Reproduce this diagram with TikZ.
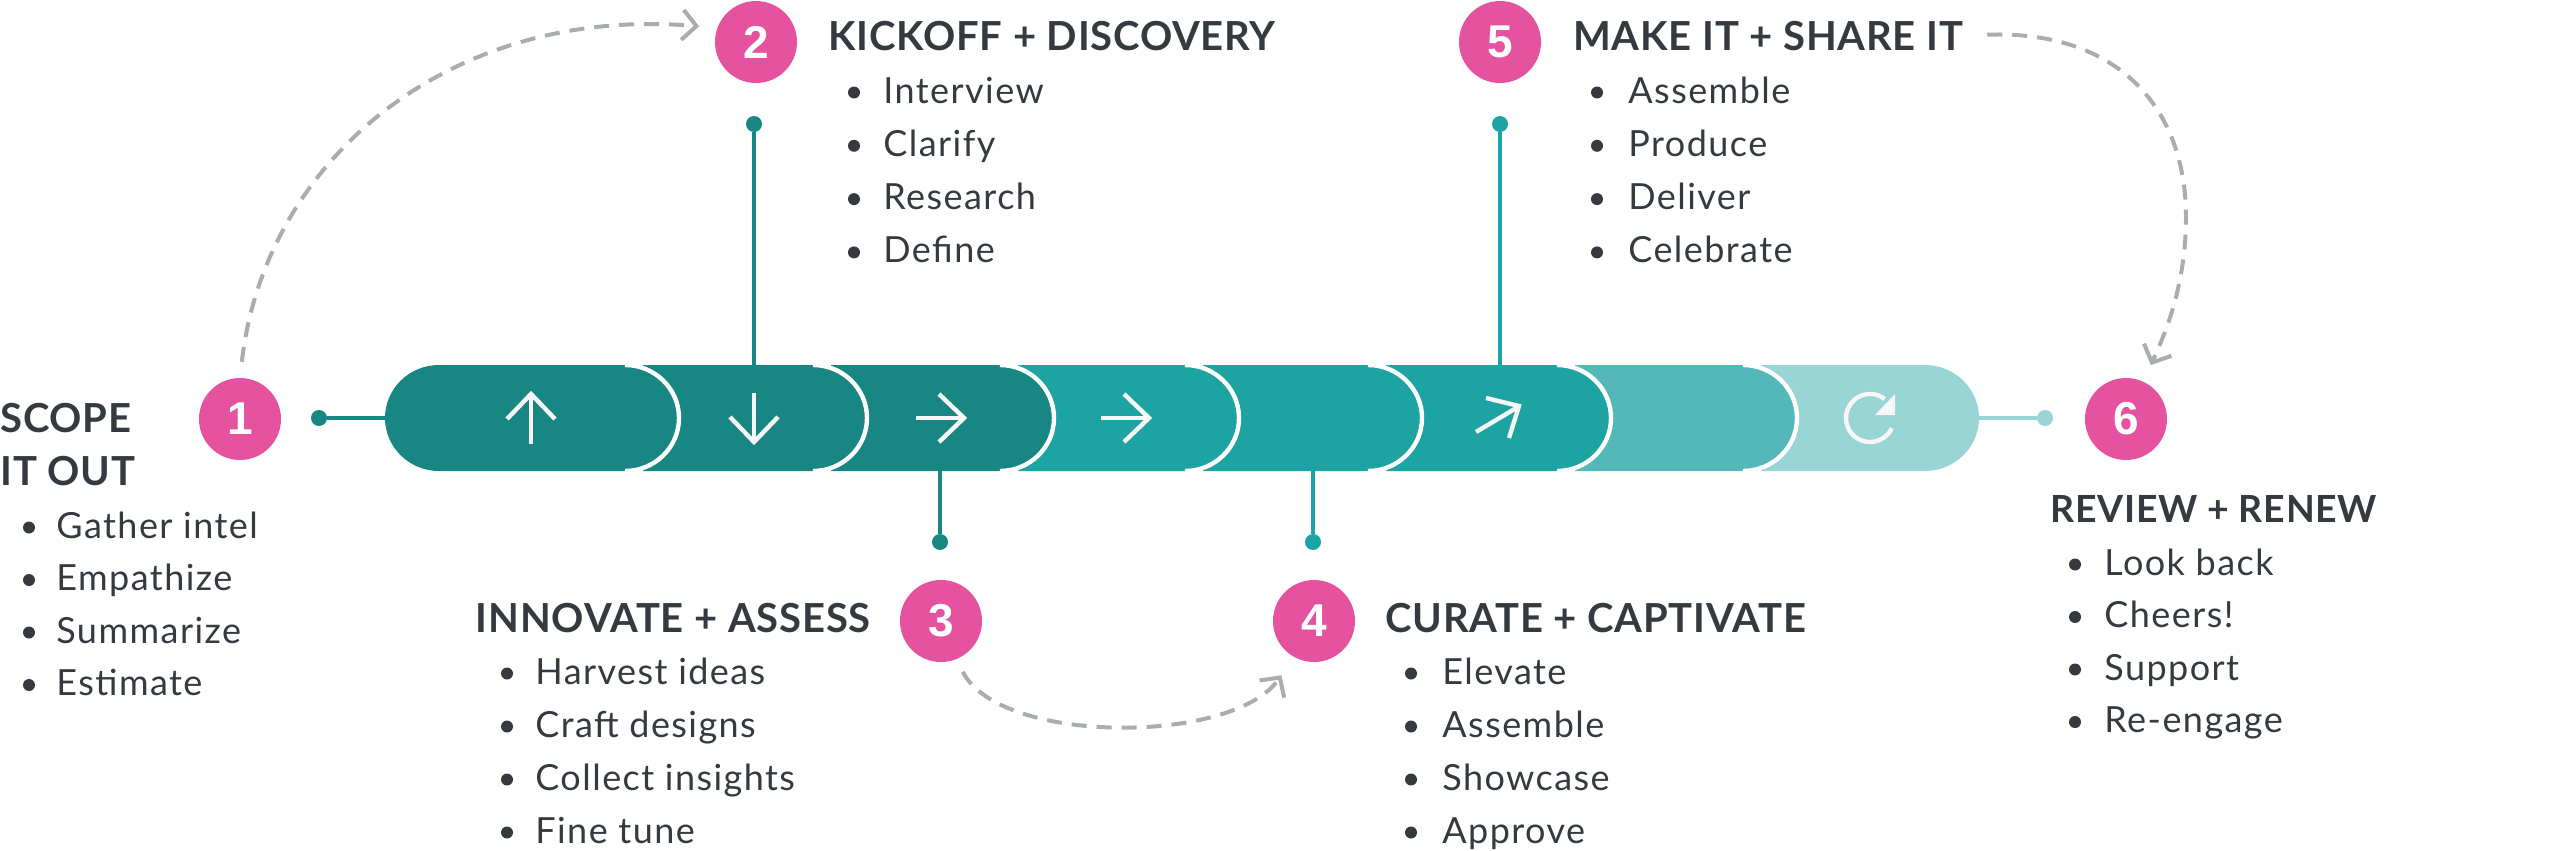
\documentclass[tikz,border=0pt]{standalone}
\usepackage{fontspec}
\setmainfont{Lato}
\newfontfamily\numfont{Liberation Sans}
\newfontfamily\itemfont[LetterSpace=4]{Lato}
\newfontfamily\headfont[LetterSpace=2]{Lato}
\usetikzlibrary{arrows.meta}
\definecolor{tealA}{HTML}{188784}
\definecolor{tealB}{HTML}{1EA3A3}
\definecolor{tealC}{HTML}{53B8B7}
\definecolor{tealD}{HTML}{99D5D5}
\definecolor{pinkC}{HTML}{E5529F}
\definecolor{grayC}{HTML}{A9ADAF}
\definecolor{txt}{HTML}{343A40}
\definecolor{iconW}{HTML}{F7F7F7}
\tikzset{
  num/.style={circle, fill=pinkC, minimum size=41pt, inner sep=0pt, text=white, font=\numfont\bfseries\fontsize{23}{23}\selectfont},
  head/.style={inner sep=0pt, text=txt, font=\headfont\bfseries\fontsize{20}{24}\selectfont},
  smallhead/.style={inner sep=0pt, text=txt, font=\headfont\bfseries\fontsize{18.7}{22}\selectfont},
  item/.style={inner sep=0pt, text=txt, font=\itemfont\fontsize{18}{22}\selectfont, anchor=base west},
  bdot/.style={circle, fill=txt, minimum size=6pt, inner sep=0pt},
  pin/.style={circle, minimum size=8pt, inner sep=0pt},
  conn/.style={line width=2pt},
  icon/.style={draw=iconW, line width=2.2pt, line join=miter},
  flow/.style={draw=grayC, line width=2pt, dash pattern=on 7.5pt off 5pt, -{Straight Barb[length=7pt,width=15pt]}},
  segedge/.style={draw=white, line width=2.2pt},
}
\newcommand\segfill[3]{%
  \fill[#3] (#1,365) -- ({#2-54},365) .. controls ({#2-24.2},365) and (#2,388.7) .. (#2,418) .. controls (#2,447.3) and ({#2-24.2},471) .. ({#2-54},471) -- (#1,471) -- cycle;}
\newcommand\segedge[1]{%
  \draw[segedge] ({#1-54},365) .. controls ({#1-24.2},365) and (#1,388.7) .. (#1,418) .. controls (#1,447.3) and ({#1-24.2},471) .. ({#1-54},471);}
\newcommand\itemlist[6]{%
  \foreach \t [count=\i from 0] in {#6} {
    \node[bdot] (#1d\i) at (#2, {#4+#5*\i-10.5}) {};
    \node[item] (#1t\i) at (#3, {#4+#5*\i}) {\t};
  }}
\begin{document}
\begin{tikzpicture}[x=0.5pt,y=-0.5pt]
\useasboundingbox (0,0) rectangle (2560,851);

% bar segments, right to left
\segfill{1761}{1979}{tealD}
\segfill{1575}{1797}{tealC} \segedge{1797}
\segfill{1386}{1611}{tealB} \segedge{1611}
\segfill{1203}{1422}{tealB} \segedge{1422}
\segfill{1018}{1239}{tealB} \segedge{1239}
\segfill{831}{1054}{tealA} \segedge{1054}
\segfill{643}{867}{tealA} \segedge{867}
\fill[tealA] (439,365) -- (625,365) .. controls (654.8,365) and (679,388.7) .. (679,418) .. controls (679,447.3) and (654.8,471) .. (625,471) -- (439,471) .. controls (409.2,471) and (385,447.3) .. (385,418) .. controls (385,388.7) and (409.2,365) .. (439,365) -- cycle;
\segedge{679}

% icons
\draw[icon] (531,444) -- (531,394);
\draw[icon] (507,419) -- (531,394) -- (555,419);
\draw[icon] (754,393) -- (754,442);
\draw[icon] (730,417) -- (754,442) -- (778,417);
\draw[icon] (916,418) -- (964,418);
\draw[icon] (939,394) -- (964,418) -- (939,442);
\draw[icon] (1101,418) -- (1149,418);
\draw[icon] (1124,394) -- (1149,418) -- (1124,442);
\draw[icon] (1476,432) -- (1518,407);
\draw[icon] (1486,398) -- (1519,406) -- (1509,438);
\draw[icon] plot[smooth, domain=52:335, samples=40] ({1870+24*cos(\x)}, {418-24*sin(\x)});
\fill[iconW] (1895,394) -- (1875,415) -- (1895,415) -- cycle;

% connector pins
\node[pin, fill=tealA] (p1) at (319,418) {};
\coordinate (b1) at (385,418);
\draw[conn, tealA] (p1) -- (b1);
\node[pin, fill=tealA] (p2) at (754,124) {};
\coordinate (b2) at (754,366);
\draw[conn, tealA] (p2) -- (b2);
\node[pin, fill=tealA] (p3) at (940,542) {};
\coordinate (b3) at (940,470);
\draw[conn, tealA] (b3) -- (p3);
\node[pin, fill=tealB] (p4) at (1313,542) {};
\coordinate (b4) at (1313,470);
\draw[conn, tealB] (b4) -- (p4);
\node[pin, fill=tealB] (p5) at (1500,124) {};
\coordinate (b5) at (1500,366);
\draw[conn, tealB] (p5) -- (b5);
\node[pin, fill=tealD] (p6) at (2045,418) {};
\coordinate (b6) at (1978,418);
\draw[conn, tealD] (b6) -- (p6);

% numbered circles
\node[num] (n1) at (240,419) {1};
\node[num] (n2) at (756,42) {2};
\node[num] (n3) at (941,621) {3};
\node[num] (n4) at (1314,621) {4};
\node[num] (n5) at (1500,42) {5};
\node[num] (n6) at (2126,419) {6};

% headings
\node[head, anchor=base west] (h1a) at (0,432) {SCOPE};
\node[head, anchor=base west] (h1b) at (0,485) {IT OUT};
\node[head, anchor=base west] (h2) at (828,50) {KICKOFF + DISCOVERY};
\node[head, anchor=base east] (h3) at (871,632) {INNOVATE + ASSESS};
\node[head, anchor=base west] (h4) at (1385,632) {CURATE + CAPTIVATE};
\node[head, anchor=base west] (h5) at (1573,50) {MAKE IT + SHARE IT};
\node[smallhead, anchor=base west] (h6) at (2050,522) {REVIEW + RENEW};

% item lists
\itemlist{a}{29}{56}{538}{52.5}{Gather intel, Empathize, Summarize, Estimate}
\itemlist{b}{854}{883}{103}{53.3}{Interview, Clarify, Research, Define}
\itemlist{c}{507}{535}{684}{53}{Harvest ideas, Craft designs, Collect insights, Fine tune}
\itemlist{d}{1411}{1442}{684}{53}{Elevate, Assemble, Showcase, Approve}
\itemlist{e}{1597}{1628}{103}{53.3}{Assemble, Produce, Deliver, Celebrate}
\itemlist{f}{2075}{2104}{575}{52.5}{Look back, Cheers!, Support, Re-engage}

% dashed flow arrows
\draw[flow, shorten <=8pt, shorten >=9pt] (n1.north) .. controls (265,160) and (450,5) .. (n2.160);
\draw[flow, shorten <=7pt, shorten >=11pt] (n3.-68) .. controls (1000,745) and (1233,745) .. (n4.-119);
\draw[flow, shorten <=12pt, shorten >=9pt] (h5.east) .. controls (2120,30) and (2186,110) .. (2186,217) .. controls (2186,290) and (2162,340) .. (n6.65);
\end{tikzpicture}
\end{document}
